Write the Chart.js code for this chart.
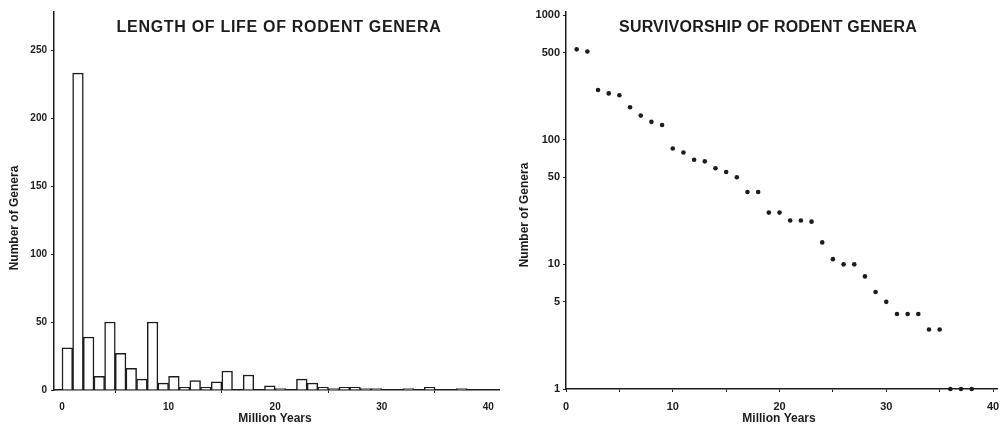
<!DOCTYPE html>
<html>
<head>
<meta charset="utf-8">
<script src="https://cdn.jsdelivr.net/npm/chart.js@4.4.1/dist/chart.umd.min.js"></script>
<style>
  html, body { margin: 0; padding: 0; background: #fff; }
  #wrap { position: relative; width: 1001px; height: 424px; }
  .panel { position: absolute; top: 0; height: 424px; }
  #left { left: 0; width: 500px; }
  #right { left: 500px; width: 501px; }
</style>
</head>
<body>
<div id="wrap">
  <div class="panel" id="left"><canvas id="lifeChart"></canvas></div>
  <div class="panel" id="right"><canvas id="survChart"></canvas></div>
</div>
<script>
// length of life: genera per 1 Myr bin (bin start, Myr)
const lifeBins = [0,1,2,3,4,5,6,7,8,9,10,11,12,13,14,15,16,17,18,19,
                  20,21,22,23,24,25,26,27,28,29,30,31,32,33,34,35,36,37,38,39];
const lifeCounts = [31,233,39,10,50,27,16,8,50,5,10,2,7,2,6,14,0,11,0,3,
                    1,0,8,5,2,1,2,2,1,1,0,0,1,0,2,0,0,1,0,0];
const lifeXTicks = [0,10,20,30,40];
const lifeYTicks = [0,50,100,150,200,250];

// survivorship: genera lasting at least x Myr (log scale)
const survYears = [1,2,3,4,5,6,7,8,9,10,11,12,13,14,15,16,17,18,19,
                   20,21,22,23,24,25,26,27,28,29,30,31,32,33,34,35,36,37,38];
const survCounts = [530,510,250,235,227,182,156,139,131,85,79,69,67,59,55,50,38,38,26,
                    26,22.5,22.5,22,15,11,10,10,8,6,5,4,4,4,3,3,1,1,1];
const survXTicks = [0,5,10,15,20,25,30,35,40];
const survYTicks = [1,5,10,50,100,500,1000];

const ink = '#1c1c1c';

// titles sit inside the plot area, so they are drawn here
function textLayer(items) {
  return {
    id: 'textLayer',
    afterDraw(chart) {
      const ctx = chart.ctx;
      items.forEach(it => {
        ctx.save();
        ctx.font = it.font;
        ctx.fillStyle = ink;
        ctx.textAlign = 'center';
        ctx.textBaseline = 'middle';
        ctx.letterSpacing = it.spacing || '0px';
        ctx.translate(it.x, it.y);
        if (it.rotate) ctx.rotate(it.rotate);
        ctx.fillText(it.text, 0, 0);
        ctx.restore();
      });
    }
  };
}

function axisLook(ticks, labelFn, pad, size) {
  return {
    border: { color: ink, width: 1.5 },
    grid: { drawOnChartArea: false, tickLength: 3, color: ink, lineWidth: 1 },
    afterBuildTicks: s => { s.ticks = ticks.map(v => ({ value: v })); },
    ticks: {
      autoSkip: false, maxRotation: 0, color: ink, padding: pad, callback: labelFn,
      font: { family: 'Liberation Sans', size: size, weight: 'bold' }
    }
  };
}

// histogram
new Chart(document.getElementById('lifeChart'), {
  type: 'bar',
  data: {
    datasets: [{
      data: lifeBins.map((b, i) => ({ x: b + 0.5, y: lifeCounts[i] })),
      backgroundColor: '#ffffff',
      borderColor: ink,
      borderWidth: 1.5,
      barPercentage: 1,
      categoryPercentage: 1
    }]
  },
  options: {
    responsive: true,
    maintainAspectRatio: false,
    animation: false,
    layout: { padding: { top: 12, left: 0, right: 0, bottom: 0 } },
    plugins: { legend: { display: false }, tooltip: { enabled: false } },
    scales: {
      x: Object.assign(axisLook(lifeXTicks, v => String(v), 8, 10), {
        type: 'linear', offset: false, min: -0.75, max: 41.1,
        afterFit: s => { s.height = 34; s.paddingLeft = 0; s.paddingRight = 0; }
      }),
      y: Object.assign(axisLook(lifeYTicks, v => String(v), 4, 10), {
        min: 0, max: 278,
        afterFit: s => { s.width = 54; s.paddingTop = 0; s.paddingBottom = 0; }
      })
    }
  },
  plugins: [textLayer([
    { text: 'LENGTH OF LIFE OF RODENT GENERA', x: 279, y: 28, spacing: '0.7px', font: 'bold 16px "Liberation Sans"' },
    { text: 'Number of Genera', x: 15, y: 218, rotate: -Math.PI / 2, font: 'bold 12px "Liberation Sans"' },
    { text: 'Million Years', x: 275, y: 419, font: 'bold 12px "Liberation Sans"' }
  ])]
});

// survivorship
new Chart(document.getElementById('survChart'), {
  type: 'scatter',
  data: {
    datasets: [{
      data: survYears.map((x, i) => ({ x: x, y: survCounts[i] })),
      pointRadius: 2.3,
      pointBackgroundColor: ink,
      pointBorderWidth: 0,
      clip: false
    }]
  },
  options: {
    responsive: true,
    maintainAspectRatio: false,
    animation: false,
    layout: { padding: { top: 12, left: 0, right: 0, bottom: 0 } },
    plugins: { legend: { display: false }, tooltip: { enabled: false } },
    scales: {
      x: Object.assign(axisLook(survXTicks, v => (v % 10 === 0 ? String(v) : ''), 8, 11), {
        type: 'linear', min: 0, max: 40.37,
        afterFit: s => { s.height = 35; s.paddingLeft = 0; s.paddingRight = 0; }
      }),
      y: Object.assign(axisLook(survYTicks, v => String(v), 3, 11), {
        type: 'logarithmic', min: 1, max: 1057,
        afterFit: s => { s.width = 66; s.paddingTop = 0; s.paddingBottom = 0; }
      })
    }
  },
  plugins: [textLayer([
    { text: 'SURVIVORSHIP OF RODENT GENERA', x: 268, y: 28, spacing: '0.2px', font: 'bold 16px "Liberation Sans"' },
    { text: 'Number of Genera', x: 25, y: 215, rotate: -Math.PI / 2, font: 'bold 12px "Liberation Sans"' },
    { text: 'Million Years', x: 279, y: 419, font: 'bold 12px "Liberation Sans"' }
  ])]
});
</script>
</body>
</html>
